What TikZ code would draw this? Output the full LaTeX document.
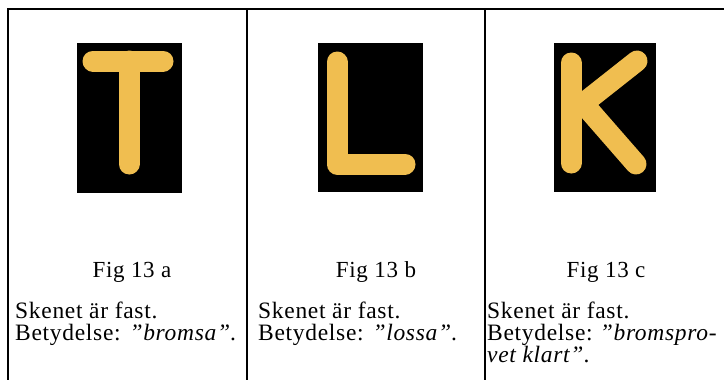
\documentclass[tikz,border=0pt]{standalone}
\usepackage{fontspec}
\setmainfont{Liberation Serif}[LetterSpace=3]
\usetikzlibrary{positioning}

\definecolor{signyellow}{RGB}{240,190,80}

\tikzset{
  frameline/.style={black, line width=1.4pt},
  plate/.style={fill=black},
  glyph/.style={signyellow, line width=21pt, line cap=round, line join=round},
  figlabel/.style={anchor=base, font=\fontsize{23}{24}\selectfont, inner sep=0pt},
  caption/.style={anchor=base west, font=\fontsize{23.5}{24}\selectfont, inner sep=0pt, align=left}
}

\begin{document}
\begin{tikzpicture}[x=1pt, y=-1pt]
  \useasboundingbox (0,0) rectangle (724,380);

  % ramen
  \draw[frameline, line width=1.8pt] (7,9) -- (724,9);
  \draw[frameline] (8,9) -- (8,380);
  \draw[frameline] (247,9) -- (247,380);
  \draw[frameline] (485,9) -- (485,380);

  % skyltar
  \fill[plate] (77,43) rectangle (182,193);
  \fill[plate] (318,43) rectangle (423,192);
  \fill[plate] (554,43) rectangle (656,192);

  % T
  \draw[glyph] (93,61) -- (163,61);
  \draw[glyph] (129,61) -- (129,164);
  % L
  \draw[glyph] (337,62) -- (337,164) -- (405,164);
  % K
  \draw[glyph] (571,63) -- (571,163);
  \draw[glyph] (580,106) -- (637,61);
  \draw[glyph] (588,109) -- (636,164);

  % texter
  \node[figlabel] (figa) at (132,277) {Fig 13 a};
  \node[figlabel] (figb) at (376,277) {Fig 13 b};
  \node[figlabel] (figc) at (606,277) {Fig 13 c};

  \node[caption] (capa) at (15,318) {Skenet är fast.};
  \node[caption, below=22pt of capa.base west, anchor=base west] (capa2) {Betydelse: \textit{"bromsa"}.};
  \node[caption] (capb) at (258,318) {Skenet är fast.};
  \node[caption, below=22pt of capb.base west, anchor=base west] (capb2) {Betydelse: \textit{"lossa"}.};
  \node[caption] (capc) at (487,318) {Skenet är fast.};
  \node[caption, below=22pt of capc.base west, anchor=base west] (capc2) {Betydelse:\hspace{0.3em}\textit{"bromspro-}};
  \node[caption, below=22pt of capc2.base west, anchor=base west] (capc3) {\textit{vet klart"}.};
\end{tikzpicture}
\end{document}
